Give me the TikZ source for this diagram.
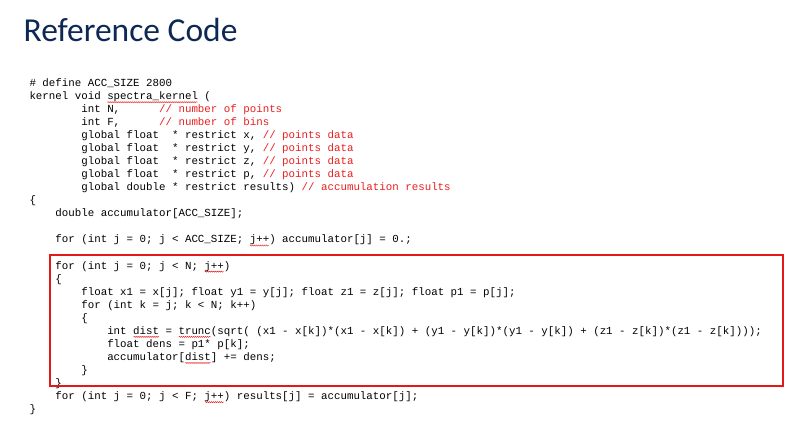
\documentclass[tikz,border=0pt]{standalone}
\usepackage{fontspec}
\usetikzlibrary{decorations.pathmorphing}
\newfontfamily\codefont{Liberation Mono}[Ligatures=NoCommon]
\newfontfamily\titlefont{Carlito}
\definecolor{titleblue}{RGB}{14,40,86}
\definecolor{cmtred}{RGB}{235,30,30}
\definecolor{boxred}{RGB}{225,25,25}
\newcommand{\cw}{6.48}
\newcommand{\lh}{13.04}
\newcommand{\bl}{86.5}
\newcommand{\cx}{29.5}
\tikzset{
  code/.style={anchor=base west, inner sep=0pt, outer sep=0pt, font=\codefont\fontsize{10.8}{13}\selectfont\frenchspacing, text=black},
  cmt/.style={code, text=cmtred},
  squig/.style={draw=cmtred, line width=0.45pt, decorate, decoration={snake, amplitude=0.55pt, segment length=2pt}},
  hibox/.style={draw=boxred, line width=2pt}
}
% \cl{name}{line}{col}{text}
\newcommand{\cl}[4]{\node[code] (#1) at ({\cx+#3*\cw},{\bl+(#2-1)*\lh}) {#4};}
\newcommand{\cm}[4]{\node[cmt] (#1) at ({\cx+#3*\cw},{\bl+(#2-1)*\lh}) {#4};}
% \sq{line}{firstcol}{lastcol}
\newcommand{\sq}[3]{\coordinate (sa) at ({\cx+#2*\cw+0.3},{\bl+(#1-1)*\lh+2.6});\coordinate (sb) at ({\cx+(#3+1)*\cw-0.3},{\bl+(#1-1)*\lh+2.6});\draw[squig] (sa) -- (sb);}
\begin{document}
\begin{tikzpicture}[x=1pt,y=-1pt]
\useasboundingbox[fill=white] (0,0) rectangle (800,424);
\node[anchor=base west, inner sep=0pt, text=titleblue, font=\titlefont\fontsize{33.5}{40}\selectfont] (title) at (23.5,41) {Reference Code};
\cl{l1}{1}{0}{\# define ACC\_SIZE 2800}
\cl{l2}{2}{0}{kernel void spectra\_kernel (}
\cl{l3}{3}{8}{int N,}
\cm{c3}{3}{20}{// number of points}
\cl{l4}{4}{8}{int F,}
\cm{c4}{4}{20}{// number of bins}
\cl{l5}{5}{8}{global float\ \ * restrict x,}
\cm{c5}{5}{36}{// points data}
\cl{l6}{6}{8}{global float\ \ * restrict y,}
\cm{c6}{6}{36}{// points data}
\cl{l7}{7}{8}{global float\ \ * restrict z,}
\cm{c7}{7}{36}{// points data}
\cl{l8}{8}{8}{global float\ \ * restrict p,}
\cm{c8}{8}{36}{// points data}
\cl{l9}{9}{8}{global double * restrict results)}
\cm{c9}{9}{42}{// accumulation results}
\cl{l10}{10}{0}{\{}
\cl{l11}{11}{4}{double accumulator[ACC\_SIZE];}
\cl{l13}{13}{4}{for (int j = 0; j < ACC\_SIZE; j++) accumulator[j] = 0.;}
\cl{l15}{15}{4}{for (int j = 0; j < N; j++)}
\cl{l16}{16}{4}{\{}
\cl{l17}{17}{8}{float x1 = x[j]; float y1 = y[j]; float z1 = z[j]; float p1 = p[j];}
\cl{l18}{18}{8}{for (int k = j; k < N; k++)}
\cl{l19}{19}{8}{\{}
\cl{l20}{20}{12}{int dist = trunc(sqrt( (x1 - x[k])*(x1 - x[k]) + (y1 - y[k])*(y1 - y[k]) + (z1 - z[k])*(z1 - z[k])));}
\cl{l21}{21}{12}{float dens = p1* p[k];}
\cl{l22}{22}{12}{accumulator[dist] += dens;}
\cl{l23}{23}{8}{\}}
\cl{l24}{24}{4}{\}}
\cl{l25}{25}{4}{for (int j = 0; j < F; j++) results[j] = accumulator[j];}
\cl{l26}{26}{0}{\}}
\sq{2}{12}{25}
\sq{13}{34}{36}
\sq{15}{27}{29}
\sq{20}{16}{19}
\sq{20}{23}{27}
\sq{22}{24}{27}
\sq{25}{27}{29}
\coordinate (bnw) at (49.5,254.5);
\coordinate (bse) at (782.5,386);
\draw[hibox] (bnw) rectangle (bse);
\end{tikzpicture}
\end{document}
